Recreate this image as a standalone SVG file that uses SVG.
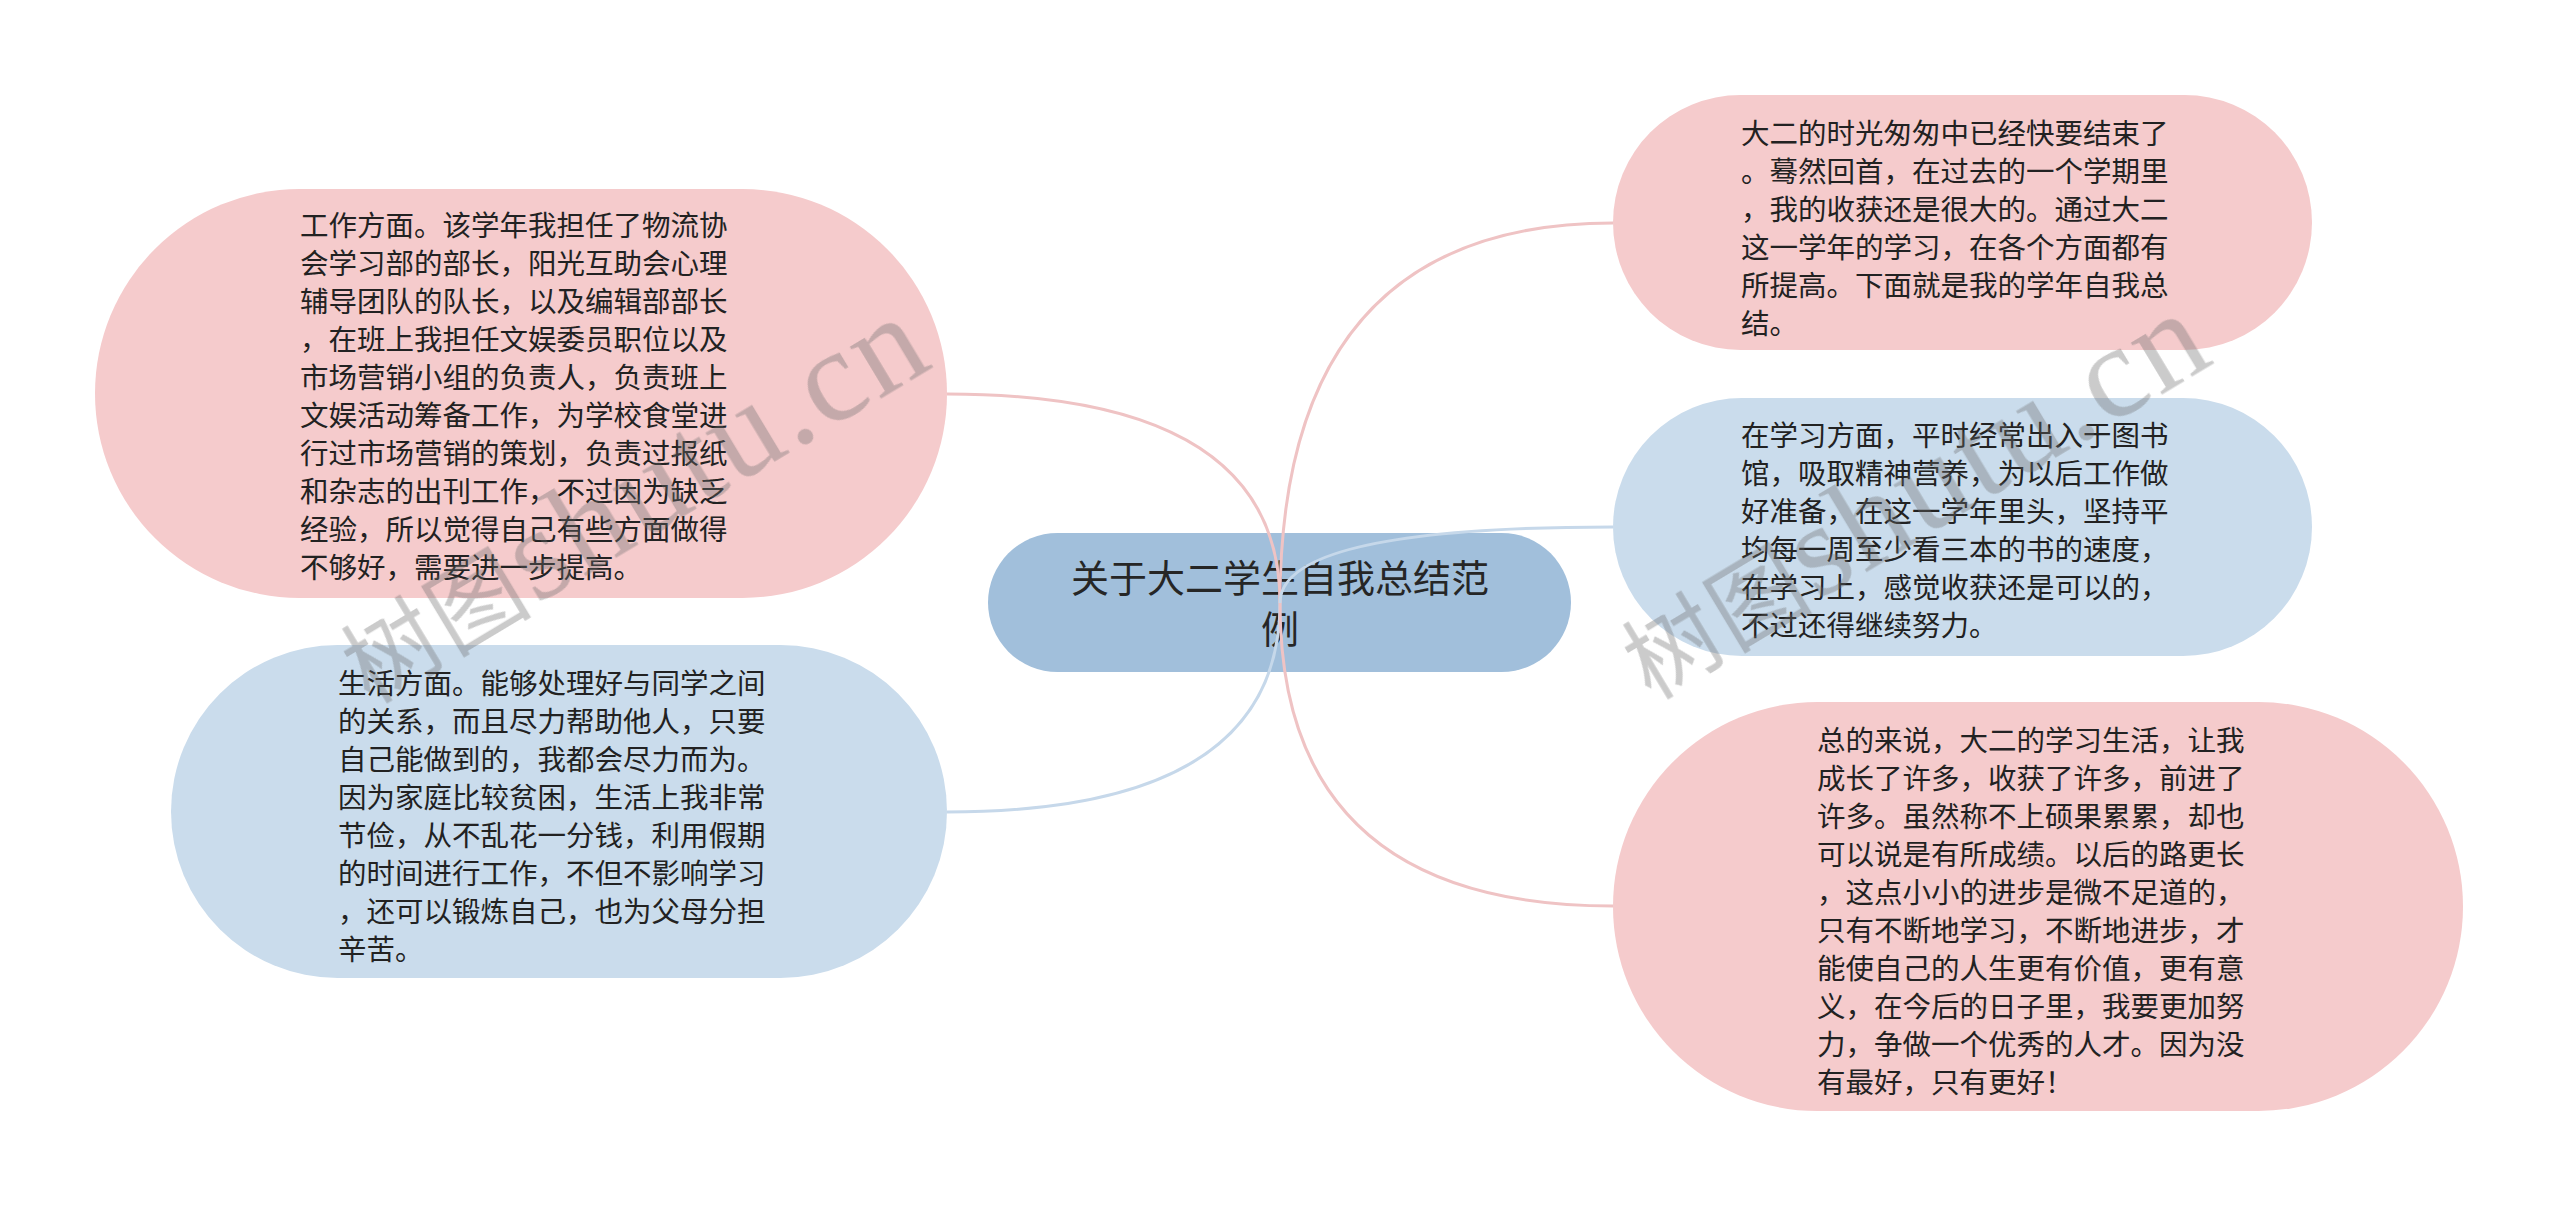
<svg xmlns="http://www.w3.org/2000/svg" width="2560" height="1207" viewBox="0 0 2560 1207">
<style>
.pink{fill:#F5CBCC}
.blue{fill:#CADCEC}
.root{fill:#A1BFDB}
.t{font-family:"Noto Sans CJK SC","Noto Sans",sans-serif;font-size:28.5px;fill:#222222}
.rt{font-family:"Noto Sans CJK SC","Noto Sans",sans-serif;font-size:38px;fill:#262626;text-anchor:middle}
.lp{fill:none;stroke:#EFC3C4;stroke-width:3}
.lb{fill:none;stroke:#C6D8EA;stroke-width:3}
.wm{fill:#6f6f6f;opacity:0.36}
.wc{font-family:"Noto Sans CJK SC",sans-serif;font-size:94px}
.wl{font-family:"Liberation Serif",serif;font-size:132px}
</style>
<rect width="2560" height="1207" fill="#FFFFFF"/>
<g id="root">
<rect class="root" x="988" y="533" width="583" height="139" rx="69.5"/>
<text class="rt"><tspan x="1280" y="592">关于大二学生自我总结范</tspan><tspan x="1280" y="642.5">例</tspan></text>
</g>
<g id="connectors">
<path class="lp" d="M1280,603 Q1280,394 947,394"/>
<path class="lb" d="M1280,603 Q1280,812 947,812"/>
<path class="lp" d="M1280,603 Q1280,223 1613,223"/>
<path class="lb" d="M1280,603 Q1280,527 1613,527"/>
<path class="lp" d="M1280,603 Q1280,906 1613,906"/>
</g>
<g id="node-work">
<rect class="pink" x="95" y="189" width="852" height="409" rx="204.5"/>
<text class="t">
<tspan x="300" y="236">工作方面。该学年我担任了物流协</tspan>
<tspan x="300" y="274">会学习部的部长，阳光互助会心理</tspan>
<tspan x="300" y="312">辅导团队的队长，以及编辑部部长</tspan>
<tspan x="300" y="350">，在班上我担任文娱委员职位以及</tspan>
<tspan x="300" y="388">市场营销小组的负责人，负责班上</tspan>
<tspan x="300" y="426">文娱活动筹备工作，为学校食堂进</tspan>
<tspan x="300" y="464">行过市场营销的策划，负责过报纸</tspan>
<tspan x="300" y="502">和杂志的出刊工作，不过因为缺乏</tspan>
<tspan x="300" y="540">经验，所以觉得自己有些方面做得</tspan>
<tspan x="300" y="578">不够好，需要进一步提高。</tspan>
</text>
</g>
<g id="node-life">
<rect class="blue" x="171" y="645" width="776" height="333" rx="166.5"/>
<text class="t">
<tspan x="338" y="694">生活方面。能够处理好与同学之间</tspan>
<tspan x="338" y="732">的关系，而且尽力帮助他人，只要</tspan>
<tspan x="338" y="770">自己能做到的，我都会尽力而为。</tspan>
<tspan x="338" y="808">因为家庭比较贫困，生活上我非常</tspan>
<tspan x="338" y="846">节俭，从不乱花一分钱，利用假期</tspan>
<tspan x="338" y="884">的时间进行工作，不但不影响学习</tspan>
<tspan x="338" y="922">，还可以锻炼自己，也为父母分担</tspan>
<tspan x="338" y="960">辛苦。</tspan>
</text>
</g>
<g id="node-intro">
<rect class="pink" x="1613" y="95" width="699" height="255" rx="127.5"/>
<text class="t">
<tspan x="1741" y="144">大二的时光匆匆中已经快要结束了</tspan>
<tspan x="1741" y="182">。蓦然回首，在过去的一个学期里</tspan>
<tspan x="1741" y="220">，我的收获还是很大的。通过大二</tspan>
<tspan x="1741" y="258">这一学年的学习，在各个方面都有</tspan>
<tspan x="1741" y="296">所提高。下面就是我的学年自我总</tspan>
<tspan x="1741" y="334">结。</tspan>
</text>
</g>
<g id="node-study">
<rect class="blue" x="1613" y="398" width="699" height="258" rx="129"/>
<text class="t">
<tspan x="1741" y="446">在学习方面，平时经常出入于图书</tspan>
<tspan x="1741" y="484">馆，吸取精神营养，为以后工作做</tspan>
<tspan x="1741" y="522">好准备，在这一学年里头，坚持平</tspan>
<tspan x="1741" y="560">均每一周至少看三本的书的速度，</tspan>
<tspan x="1741" y="598">在学习上，感觉收获还是可以的，</tspan>
<tspan x="1741" y="636">不过还得继续努力。</tspan>
</text>
</g>
<g id="node-summary">
<rect class="pink" x="1613" y="702" width="850" height="409" rx="204.5"/>
<text class="t">
<tspan x="1817" y="751">总的来说，大二的学习生活，让我</tspan>
<tspan x="1817" y="789">成长了许多，收获了许多，前进了</tspan>
<tspan x="1817" y="827">许多。虽然称不上硕果累累，却也</tspan>
<tspan x="1817" y="865">可以说是有所成绩。以后的路更长</tspan>
<tspan x="1817" y="903">，这点小小的进步是微不足道的，</tspan>
<tspan x="1817" y="941">只有不断地学习，不断地进步，才</tspan>
<tspan x="1817" y="979">能使自己的人生更有价值，更有意</tspan>
<tspan x="1817" y="1017">义，在今后的日子里，我要更加努</tspan>
<tspan x="1817" y="1055">力，争做一个优秀的人才。因为没</tspan>
<tspan x="1817" y="1093">有最好，只有更好！</tspan>
</text>
</g>
<g id="watermark" class="wm">
<text transform="translate(370,705) rotate(-31)" letter-spacing="3"><tspan class="wc">树图</tspan><tspan class="wl">shutu.cn</tspan></text>
<text transform="translate(1651,701) rotate(-31)" letter-spacing="3"><tspan class="wc">树图</tspan><tspan class="wl">shutu.cn</tspan></text>
</g>
</svg>
